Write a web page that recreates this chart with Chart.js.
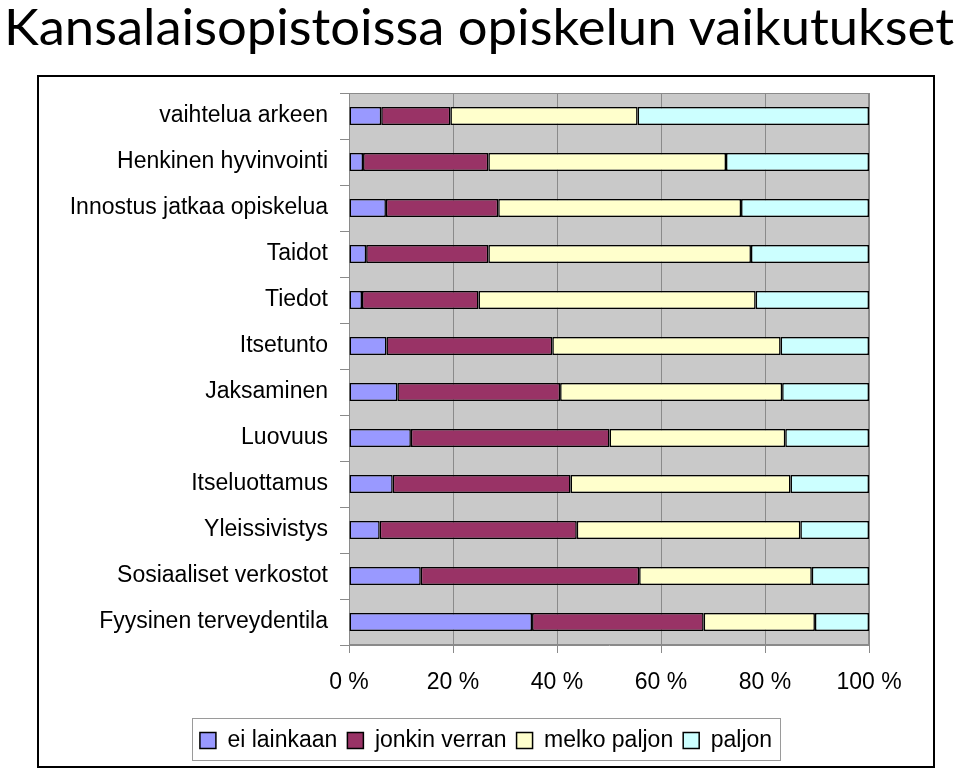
<!DOCTYPE html>
<html>
<head>
<meta charset="utf-8">
<script src="https://cdn.jsdelivr.net/npm/chart.js@4.4.1/dist/chart.umd.min.js"></script>
<style>
   body { margin: 0; background: #fff; width: 960px; height: 772px; position: relative; overflow: hidden; }
   #title {
      position: absolute; left: 4px; top: -4px;
      font-family: "Comic Sans MS", "Lato", sans-serif; font-size: 50px;
      white-space: nowrap; transform-origin: 0 0; color: #000;
   }
   #box { position: absolute; left: 37px; top: 75px; width: 894px; height: 689px; border: 2px solid #000; }
   #chart { display: block; }
</style>
</head>
<body>
<div id="title">Kansalaisopistoissa opiskelun vaikutukset</div>
<div id="box"><canvas id="chart" width="894" height="689"></canvas></div>
<script>
// categories, top to bottom
const categories = [
   "vaihtelua arkeen",
   "Henkinen hyvinvointi",
   "Innostus jatkaa opiskelua",
   "Taidot",
   "Tiedot",
   "Itsetunto",
   "Jaksaminen",
   "Luovuus",
   "Itseluottamus",
   "Yleissivistys",
   "Sosiaaliset verkostot",
   "Fyysinen terveydentila",
];

// shares in %
const eiLainkaan = [6.2, 2.7, 7.1, 3.3, 2.5, 7.2, 9.3, 11.9, 8.4, 5.9, 13.8, 35.2];
const jonkinVerran = [13.3, 24.1, 21.6, 23.5, 22.4, 31.9, 31.3, 38.2, 34.2, 37.9, 42.0, 33.0];
const melkoPaljon = [36.0, 45.7, 46.7, 50.5, 53.3, 43.9, 42.7, 33.8, 42.3, 43.0, 33.2, 21.4];
const paljon = [44.5, 27.5, 24.6, 22.7, 21.8, 17.0, 16.7, 16.1, 15.1, 13.2, 11.0, 10.4];

const seriesNames = ["ei lainkaan", "jonkin verran", "melko paljon", "paljon"];
const xTicks = [0, 20, 40, 60, 80, 100];

const font = { family: '"Liberation Sans", Arial, sans-serif', size: 23 };

// fit title to page width
const title = document.getElementById("title");
title.style.transform = `scaleX(${950 / title.getBoundingClientRect().width})`;

// gray plot area, legend centred in the frame, border round the legend
const plotBackground = {
   id: "plotBackground",
   afterLayout(chart) {
      const lg = chart.legend;
      lg.left = 0;
      lg.right = chart.width;
      lg.width = chart.width;
   },
   beforeDraw(chart) {
      const { ctx, chartArea: a } = chart;
      ctx.save();
      ctx.fillStyle = "#c9c9c9";
      ctx.fillRect(a.left, a.top, a.right - a.left, a.bottom - a.top);
      ctx.strokeStyle = "#8a8a8a";
      ctx.lineWidth = 1;
      ctx.strokeRect(a.left + 0.5, a.top + 0.5, a.right - a.left - 1, a.bottom - a.top - 1);
      ctx.restore();
   },
   afterDraw(chart) {
      const lg = chart.legend;
      const pad = lg.options.labels.padding;
      let rowWidth = 0;
      if (lg.lineWidths && lg.lineWidths.length) {
         rowWidth = lg.lineWidths[0];
      } else {
         lg.legendHitBoxes.forEach((b) => (rowWidth += b.width + pad));
      }
      const x0 = (lg.left + pad + lg.right - rowWidth) / 2;
      const left = Math.round(x0 - 8);
      const right = Math.round(x0 + rowWidth - pad + 8);
      const top = Math.round(lg.top - 1);
      const { ctx } = chart;
      ctx.save();
      ctx.strokeStyle = "#9a9a9a";
      ctx.lineWidth = 1;
      ctx.strokeRect(left + 0.5, top + 0.5, right - left, 42);
      ctx.restore();
   },
};

const colors = ["#9999ff", "#993366", "#ffffcc", "#ccffff"];
const values = [eiLainkaan, jonkinVerran, melkoPaljon, paljon];

const data = {
   labels: categories,
   datasets: seriesNames.map((name, i) => ({
      label: name,
      data: values[i],
      backgroundColor: colors[i],
      borderColor: "#000",
      borderWidth: 1.5,
      borderSkipped: false,
      barPercentage: 0.39,
      categoryPercentage: 1,
   })),
};

const config = {
   type: "bar",
   data: data,
   plugins: [plotBackground],
   options: {
      indexAxis: "y",
      responsive: false,
      animation: false,
      layout: { padding: { top: 16, right: 64, left: 0, bottom: 4 } },
      scales: {
         x: {
            stacked: true,
            min: 0,
            max: 100,
            afterBuildTicks: (scale) => {
               scale.ticks = xTicks.map((v) => ({ value: v }));
            },
            afterFit: (scale) => {
               scale.height = 74;
            },
            grid: { color: "#8a8a8a", tickLength: 8, tickColor: "#8a8a8a" },
            border: { color: "#8a8a8a" },
            ticks: {
               color: "#000",
               font: font,
               padding: 16,
               maxRotation: 0,
               callback: (v) => v + " %",
            },
         },
         y: {
            stacked: true,
            afterFit: (scale) => {
               scale.width = 310;
               scale.paddingTop = 0;
               scale.paddingBottom = 0;
            },
            grid: { drawOnChartArea: false, tickLength: 9, tickColor: "#8a8a8a" },
            border: { color: "#8a8a8a" },
            ticks: { color: "#000", font: font, padding: 12 },
         },
      },
      plugins: {
         legend: {
            position: "bottom",
            labels: {
               color: "#000",
               font: font,
               boxWidth: 16,
               boxHeight: 16,
               padding: 10,
            },
         },
         tooltip: { enabled: false },
      },
   },
};

new Chart(document.getElementById("chart"), config);
</script>
</body>
</html>
